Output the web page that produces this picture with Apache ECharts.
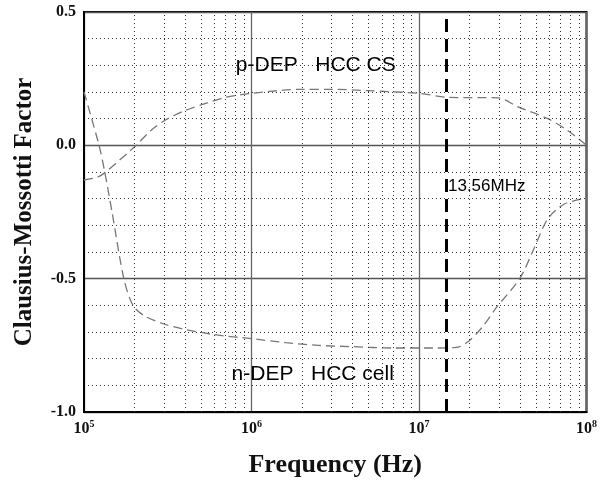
<!DOCTYPE html>
<html>
<head>
<meta charset="utf-8">
<script src="https://cdn.jsdelivr.net/npm/echarts@6/dist/echarts.min.js"></script>
<style>
  html, body { margin: 0; padding: 0; background: #fff; }
  #chart { width: 600px; height: 483px; }
</style>
</head>
<body>
<div id="chart"></div>
<script>
// p-DEP curve (HCC CS)
const freqP = [1e5, 1.2e5, 1.35e5, 1.6e5, 1.85e5, 2.05e5, 2.5e5, 3.1e5, 4e5, 5.5e5, 7e5, 1e6, 2e6, 3e6, 5e6, 1e7, 1.5e7, 2.97e7, 3.9e7, 5.87e7, 7.7e7, 1e8];
const pDep = [-0.13, -0.12, -0.1, -0.06, -0.025, 0, 0.055, 0.097, 0.13, 0.16, 0.18, 0.195, 0.21, 0.21, 0.205, 0.195, 0.18, 0.178, 0.144, 0.1, 0.056, 0];
// n-DEP curve (HCC cell)
const freqN = [1e5, 1.23e5, 1.33e5, 1.47e5, 1.73e5, 1.96e5, 2.3e5, 3e5, 4e5, 6e5, 1e6, 1.6e6, 2.5e6, 4e6, 7e6, 1.2e7, 1.67e7, 1.97e7, 2.4e7, 2.9e7, 3.99e7, 4.9e7, 5.87e7, 7.38e7, 1e8];
const nDep = [0.2, 0, -0.1, -0.25, -0.5, -0.6, -0.64, -0.67, -0.69, -0.71, -0.725, -0.74, -0.75, -0.755, -0.76, -0.76, -0.758, -0.736, -0.68, -0.608, -0.5, -0.382, -0.276, -0.22, -0.198];
// 13.56 MHz marker (drawn where the picture puts it)
const markerFreq = 1.45e7;
// minor log grid positions
const minorFreqs = [];
[1e5, 1e6, 1e7].forEach(d => { for (let k = 2; k <= 9; k++) minorFreqs.push(k * d); });

const zip = (xs, ys) => xs.map((x, i) => [x, ys[i]]);

const chart = echarts.init(document.getElementById('chart'));
const serif = '"Liberation Serif", "DejaVu Serif", serif';
const sans = '"Liberation Sans", "Noto Sans", sans-serif';

// invisible point carrying a text label
const note = (text, coord, size, pos) => ({
  name: text, coord: coord, symbol: 'circle', symbolSize: 1,
  itemStyle: { color: 'rgba(0,0,0,0)' },
  label: { show: true, position: pos || 'inside', distance: 0, fontFamily: sans, fontSize: size, color: '#000', formatter: '{b}' }
});

chart.setOption({
  animation: false,
  grid: { left: 84, right: 11, top: 12, bottom: 71, show: true, borderColor: '#000', borderWidth: 2 },
  xAxis: {
    type: 'log', logBase: 10, min: 1e5, max: 1e8,
    name: 'Frequency (Hz)', nameLocation: 'middle', nameGap: 40,
    nameTextStyle: { fontFamily: serif, fontWeight: 'bold', fontSize: 26, color: '#111' },
    axisLine: { show: true, onZero: false, lineStyle: { color: '#000', width: 2 } },
    axisTick: { show: false },
    splitLine: { show: true, lineStyle: { color: '#666', width: 1.3 } },
    axisLabel: {
      margin: 7,
      formatter: v => '{b|10}{s|' + Math.round(Math.log10(v)) + '}',
      rich: {
        b: { fontFamily: serif, fontWeight: 'bold', fontSize: 16, color: '#111' },
        s: { fontFamily: serif, fontWeight: 'bold', fontSize: 10, color: '#111', verticalAlign: 'top', padding: [0, 0, 9, 0] }
      }
    }
  },
  yAxis: {
    type: 'value', min: -1, max: 0.5, interval: 0.5,
    name: 'Clausius-Mossotti Factor', nameLocation: 'middle', nameGap: 47,
    nameTextStyle: { fontFamily: serif, fontWeight: 'bold', fontSize: 25, color: '#111' },
    axisLine: { show: true, onZero: false, lineStyle: { color: '#000', width: 2 } },
    axisTick: { show: false },
    axisLabel: { margin: 8, fontFamily: serif, fontWeight: 'bold', fontSize: 16, color: '#111', formatter: v => v.toFixed(1) },
    splitLine: { show: true, lineStyle: { color: '#555', width: 1.3 } },
    minorTick: { show: false, splitNumber: 5 },
    minorSplitLine: { show: true, lineStyle: { color: '#333', width: 1, type: [1, 3] } }
  },
  series: [
    {
      name: 'minor', type: 'line', data: [], silent: true,
      markLine: {
        silent: true, symbol: 'none', animation: false,
        label: { show: false },
        lineStyle: { color: '#333', width: 1, type: [1, 3] },
        data: minorFreqs.map(f => ({ xAxis: f }))
      }
    },
    {
      name: 'p-DEP', type: 'line', data: zip(freqP, pDep), smooth: 0.3, showSymbol: false,
      lineStyle: { color: '#777', width: 1.3, type: [9, 5] },
      markPoint: { silent: true, data: [note('p-DEP   HCC CS', [2.42e6, 0.30], 21)] }
    },
    {
      name: 'n-DEP', type: 'line', data: zip(freqN, nDep), smooth: 0.3, showSymbol: false,
      lineStyle: { color: '#777', width: 1.3, type: [9, 5] },
      markPoint: { silent: true, data: [note('n-DEP   HCC cell', [2.32e6, -0.857], 21)] }
    },
    {
      name: 'marker', type: 'line', data: [], silent: true,
      markLine: {
        silent: true, symbol: 'none', animation: false,
        lineStyle: { color: '#000', width: 3, type: [13, 7] },
        label: { show: false },
        data: [{ xAxis: markerFreq }]
      },
      markPoint: { silent: true, data: [note('13.56MHz', [markerFreq * 1.02, -0.154], 17, 'right')] }
    }
  ]
});
</script>
</body>
</html>
